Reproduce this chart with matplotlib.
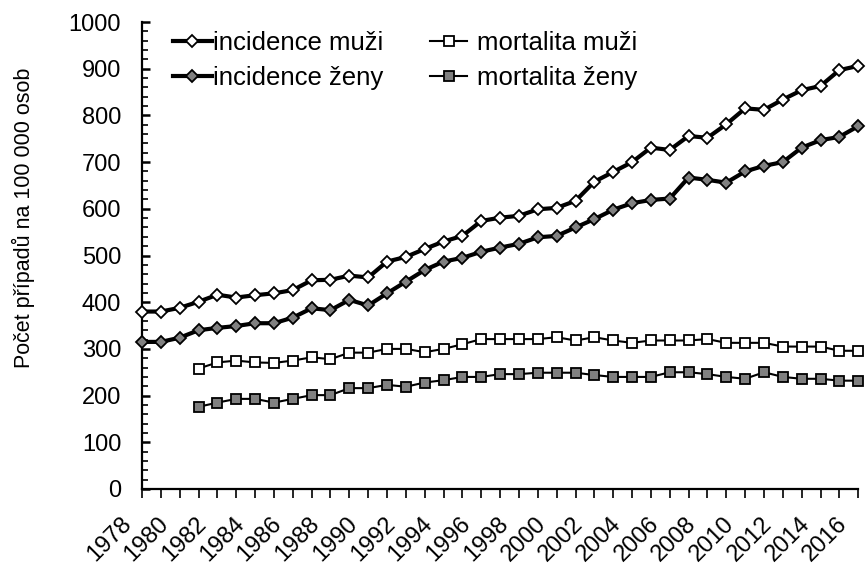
import numpy as np
import matplotlib.pyplot as plt
from matplotlib.ticker import MultipleLocator
from matplotlib.transforms import ScaledTranslation

plt.rcParams['font.family'] = ['Liberation Sans', 'DejaVu Sans']

# Data
years = list(range(1978, 2017))
mort_years = list(range(1981, 2017))

incidence_muzi = [380, 380, 388, 401, 416, 410, 415, 419, 426, 447, 448, 457, 453,
                  487, 497, 514, 530, 542, 574, 581, 585, 599, 602, 617, 658, 679,
                  700, 731, 726, 756, 752, 781, 815, 812, 834, 854, 863, 897, 906]
incidence_zeny = [315, 315, 324, 340, 345, 349, 355, 355, 367, 387, 383, 405, 393,
                  419, 444, 469, 487, 495, 508, 517, 525, 539, 542, 560, 578, 598,
                  612, 619, 622, 667, 662, 656, 680, 692, 700, 731, 747, 754, 777]
mortalita_muzi = [258, 271, 275, 271, 270, 275, 282, 278, 292, 292, 300, 300, 293,
                  300, 310, 321, 321, 321, 321, 325, 318, 325, 318, 313, 318, 318,
                  318, 321, 313, 313, 313, 305, 305, 305, 296, 296]
mortalita_zeny = [176, 185, 193, 193, 185, 193, 201, 201, 216, 216, 223, 219, 228,
                  233, 240, 240, 246, 246, 249, 249, 249, 244, 240, 240, 240, 250,
                  250, 246, 240, 236, 250, 240, 236, 236, 232, 232]

labels = ['incidence muži', 'incidence ženy', 'mortalita muži', 'mortalita ženy']

fig = plt.figure(figsize=(8.66, 5.69), dpi=100)
ax = fig.add_axes([0.164, 0.1406, 0.827, 0.8207])

diamond = dict(color='black', marker='D', ms=5.8, mec='black', mew=1.3,
               clip_on=False)
square = dict(color='black', marker='s', ms=6.8, mec='black', mew=1.3,
              clip_on=False)

l1, = ax.plot(years, incidence_muzi, lw=3, mfc='white', zorder=4, **diamond)
l2, = ax.plot(years, incidence_zeny, lw=3, mfc='#808080', zorder=4, **diamond)
l3, = ax.plot(mort_years, mortalita_muzi, lw=1.5, mfc='white', zorder=3, **square)
l4, = ax.plot(mort_years, mortalita_zeny, lw=1.5, mfc='#808080', zorder=3, **square)

ax.set_xlim(1978, 2016)
ax.set_ylim(0, 1000)

ax.spines['top'].set_visible(False)
ax.spines['right'].set_visible(False)
for s in ('left', 'bottom'):
    ax.spines[s].set_linewidth(1.6)

ax.yaxis.set_major_locator(MultipleLocator(100))
ax.yaxis.set_minor_locator(MultipleLocator(20))
ax.tick_params(axis='y', which='major', direction='in', length=6, width=1.8,
               labelsize=17, pad=15)
ax.tick_params(axis='y', which='minor', direction='in', length=4.3, width=1.2)

ax.set_xticks(years[::2])
ax.set_xticks(years, minor=True)
ax.set_xticklabels([str(y) for y in years[::2]], rotation=45, ha='right',
                   rotation_mode='anchor')
ax.tick_params(axis='x', which='both', direction='out', length=6.5, width=1.2,
               labelsize=17, pad=4)
# Excel puts the slanted year labels a bit left of and below their ticks
shift = ScaledTranslation(-0.22, -0.09, fig.dpi_scale_trans)
for tick in ax.xaxis.get_major_ticks():
    tick.label1.set_transform(tick.label1.get_transform() + shift)

ax.set_ylabel('Počet případů na 100 000 osob', fontsize=15.5)
ax.yaxis.set_label_coords(-0.149, 0.58)

leg1 = fig.legend([l1, l2], labels[:2], frameon=False, fontsize=18.5,
                  loc='upper left', bbox_to_anchor=(0.1994, 0.9455),
                  handlelength=1.52, handletextpad=0.06, labelspacing=0.42,
                  borderpad=0, borderaxespad=0)
leg2 = fig.legend([l3, l4], labels[2:], frameon=False, fontsize=18.5,
                  loc='upper left', bbox_to_anchor=(0.4965, 0.9455),
                  handlelength=1.45, handletextpad=0.37, labelspacing=0.42,
                  borderpad=0, borderaxespad=0)

fig.savefig('out.png', dpi=100)
